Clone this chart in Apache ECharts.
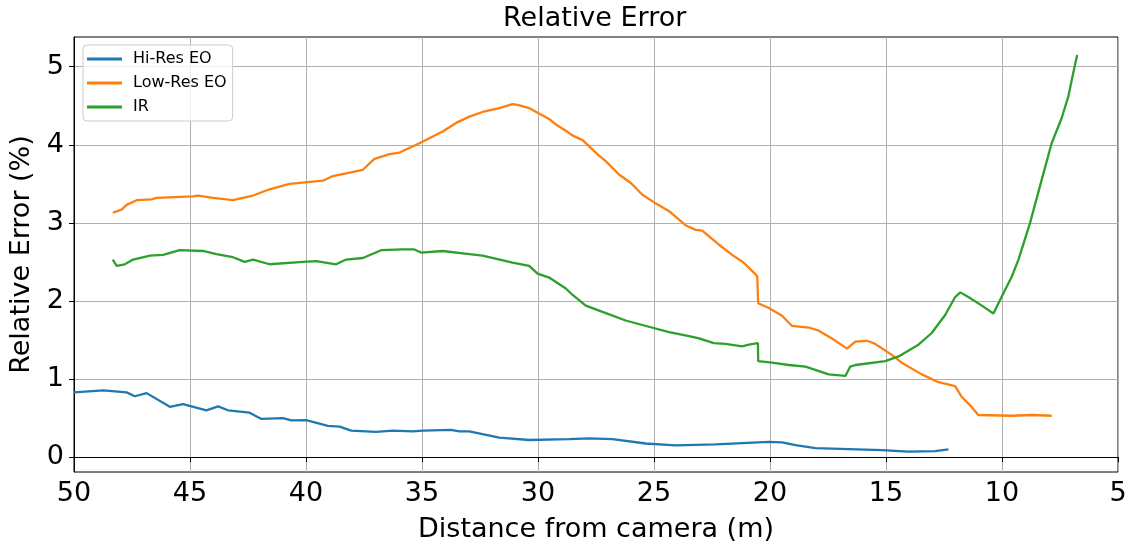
<!DOCTYPE html>
<html>
<head>
<meta charset="utf-8">
<script src="https://cdn.jsdelivr.net/npm/echarts@6/dist/echarts.min.js"></script>
<style>
  html, body { margin: 0; padding: 0; background: #fff; }
  #chart { width: 1130px; height: 544px; }
</style>
</head>
<body>
<div id="chart"></div>
<script>
// Distance from camera (m) and relative error (%) for each sensor
const hiResDist = [50.0, 48.74, 47.73, 47.38, 46.87, 45.87, 45.30, 44.29, 43.79, 43.36, 42.43, 41.92, 40.99, 40.63, 39.99, 39.06, 38.55, 38.05, 36.98, 36.26, 35.40, 34.97, 33.75, 33.39, 32.96, 31.67, 30.38, 28.66, 27.80, 26.79, 25.36, 24.07, 22.35, 20.05, 19.48, 18.90, 18.04, 15.18, 14.03, 12.88, 12.31];
const hiResErr  = [0.83, 0.855, 0.83, 0.78, 0.82, 0.645, 0.68, 0.60, 0.65, 0.60, 0.57, 0.49, 0.50, 0.47, 0.475, 0.40, 0.39, 0.34, 0.325, 0.34, 0.33, 0.34, 0.35, 0.33, 0.33, 0.25, 0.22, 0.23, 0.24, 0.23, 0.175, 0.15, 0.165, 0.195, 0.19, 0.155, 0.115, 0.09, 0.07, 0.077, 0.10];

const lowResDist = [48.33, 47.95, 47.73, 47.30, 46.66, 46.44, 44.87, 44.65, 44.01, 43.15, 42.28, 41.57, 40.71, 39.27, 38.84, 37.55, 37.05, 36.40, 35.97, 35.11, 34.11, 33.53, 32.96, 32.39, 31.67, 31.10, 30.88, 30.38, 30.02, 29.52, 29.23, 28.80, 28.52, 28.08, 27.37, 27.08, 26.51, 26.00, 25.50, 24.93, 24.35, 23.64, 23.21, 22.92, 22.20, 21.63, 21.13, 20.62, 20.55, 20.51, 20.05, 19.48, 19.05, 18.33, 17.90, 17.33, 16.68, 16.32, 15.82, 15.46, 14.75, 14.32, 13.46, 12.74, 12.02, 11.73, 11.30, 11.02, 9.58, 8.72, 7.86];
const lowResErr  = [3.13, 3.17, 3.23, 3.29, 3.30, 3.32, 3.34, 3.35, 3.32, 3.29, 3.35, 3.43, 3.50, 3.54, 3.60, 3.68, 3.82, 3.88, 3.90, 4.02, 4.17, 4.28, 4.36, 4.42, 4.47, 4.52, 4.51, 4.47, 4.41, 4.33, 4.26, 4.18, 4.12, 4.06, 3.86, 3.79, 3.62, 3.51, 3.36, 3.25, 3.15, 2.97, 2.91, 2.90, 2.72, 2.59, 2.49, 2.34, 2.31, 1.97, 1.91, 1.81, 1.68, 1.66, 1.62, 1.52, 1.39, 1.48, 1.49, 1.45, 1.31, 1.21, 1.06, 0.96, 0.91, 0.77, 0.64, 0.54, 0.53, 0.54, 0.53];

const irDist = [48.33, 48.16, 47.81, 47.45, 46.73, 46.16, 45.44, 44.44, 43.86, 43.15, 42.64, 42.28, 41.57, 40.13, 39.56, 38.70, 38.27, 37.55, 36.76, 35.83, 35.33, 35.04, 34.11, 32.96, 32.39, 31.10, 30.38, 30.02, 29.52, 28.80, 28.52, 27.94, 27.22, 26.22, 25.22, 24.35, 23.49, 23.06, 22.42, 21.92, 21.20, 20.91, 20.52, 20.51, 19.91, 19.19, 18.47, 17.47, 16.75, 16.54, 16.32, 15.03, 14.46, 13.60, 13.03, 12.45, 12.02, 11.80, 11.45, 10.87, 10.37, 9.94, 9.58, 9.29, 8.79, 8.29, 7.86, 7.43, 7.14, 6.93, 6.76];
const irErr  = [2.53, 2.45, 2.47, 2.53, 2.58, 2.59, 2.65, 2.64, 2.60, 2.56, 2.50, 2.53, 2.47, 2.50, 2.51, 2.47, 2.53, 2.55, 2.65, 2.66, 2.66, 2.62, 2.64, 2.60, 2.58, 2.49, 2.45, 2.35, 2.30, 2.16, 2.08, 1.94, 1.86, 1.75, 1.67, 1.60, 1.55, 1.52, 1.46, 1.45, 1.42, 1.44, 1.46, 1.23, 1.21, 1.18, 1.16, 1.06, 1.04, 1.16, 1.18, 1.23, 1.29, 1.44, 1.59, 1.82, 2.05, 2.11, 2.05, 1.94, 1.84, 2.10, 2.31, 2.53, 3.00, 3.55, 4.02, 4.34, 4.62, 4.92, 5.15];

const xTicks = [50, 45, 40, 35, 30, 25, 20, 15, 10, 5];
const yTicks = [0, 1, 2, 3, 4, 5];

const seriesNames = ['Hi-Res EO', 'Low-Res EO', 'IR'];
const seriesColors = ['#1f77b4', '#ff7f0e', '#2ca02c'];

function pairs(xs, ys) {
  return xs.map((x, i) => [x, ys[i]]);
}

const FONT = 'DejaVu Sans';
const chart = echarts.init(document.getElementById('chart'), null, { renderer: 'canvas' });

const lineSeries = [
  pairs(hiResDist, hiResErr),
  pairs(lowResDist, lowResErr),
  pairs(irDist, irErr)
].map((data, i) => ({
  name: seriesNames[i],
  type: 'line',
  data: data,
  showSymbol: false,
  symbol: 'none',
  clip: true,
  lineStyle: { color: seriesColors[i], width: 2.3 },
  itemStyle: { color: seriesColors[i] },
  emphasis: { disabled: true }
}));

chart.setOption({
  animation: false,
  backgroundColor: '#ffffff',
  textStyle: { fontFamily: FONT },
  title: {
    text: 'Relative Error',
    left: 503,
    top: 5,
    padding: 0,
    textStyle: { fontFamily: FONT, fontSize: 27, fontWeight: 'normal', color: '#000' }
  },
  legend: {
    orient: 'vertical',
    left: 83,
    top: 45,
    padding: [2, 6, 2, 4],
    itemGap: 0,
    itemWidth: 35,
    itemHeight: 3,
    icon: 'rect',
    backgroundColor: 'rgba(255,255,255,0.8)',
    borderColor: '#cccccc',
    borderWidth: 1,
    borderRadius: 4,
    data: seriesNames,
    textStyle: { fontFamily: FONT, fontSize: 16, color: '#000', lineHeight: 24, padding: [0, 0, 0, 6] }
  },
  grid: {
    left: 74,
    right: 12,
    top: 37,
    bottom: 72,
    show: true,
    borderColor: '#000',
    borderWidth: 1,
    containLabel: false,
    outerBoundsMode: 'none'
  },
  xAxis: {
    type: 'value',
    inverse: true,
    min: 5,
    max: 50,
    interval: 5,
    name: 'Distance from camera (m)',
    nameLocation: 'middle',
    nameGap: 44,
    nameTextStyle: { fontFamily: FONT, fontSize: 27, color: '#000' },
    axisLine: { show: true, lineStyle: { color: '#000', width: 1 } },
    axisTick: { show: true, inside: false, length: 5, lineStyle: { color: '#000', width: 1 } },
    axisLabel: {
      margin: 8,
      fontFamily: FONT,
      fontSize: 27,
      color: '#000',
      formatter: v => (xTicks.indexOf(v) >= 0 ? String(v) : '')
    },
    splitLine: { show: true, lineStyle: { color: '#b0b0b0', width: 1 } }
  },
  yAxis: {
    type: 'value',
    min: -0.19,
    max: 5.38,
    name: 'Relative Error (%)',
    nameLocation: 'middle',
    nameGap: 36,
    nameTextStyle: { fontFamily: FONT, fontSize: 27, color: '#000' },
    axisLine: { show: true, lineStyle: { color: '#000', width: 1 } },
    axisTick: { show: true, inside: false, length: 5, customValues: yTicks, lineStyle: { color: '#000', width: 1 } },
    axisLabel: {
      margin: 10,
      fontFamily: FONT,
      fontSize: 27,
      color: '#000',
      customValues: yTicks,
      formatter: v => String(v)
    },
    splitLine: { show: true, lineStyle: { color: '#b0b0b0', width: 1 } }
  },
  series: lineSeries
});
</script>
</body>
</html>
